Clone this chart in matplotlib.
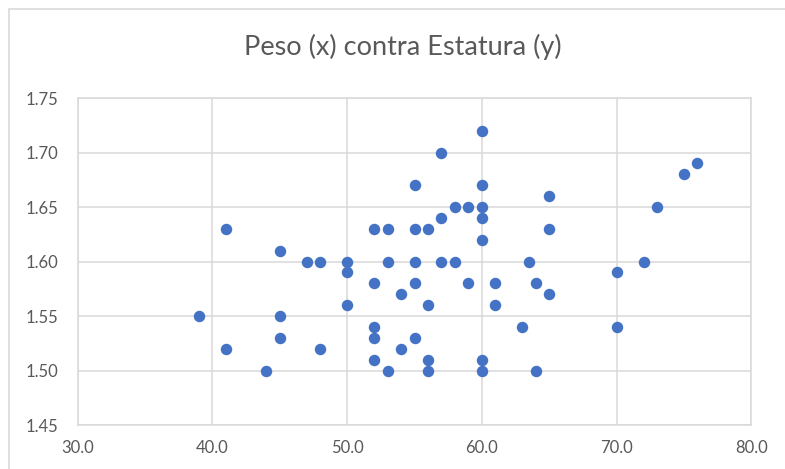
import matplotlib
matplotlib.use("Agg")
from matplotlib import pyplot as plt
from matplotlib.patches import Rectangle

# peso (kg) y estatura (m)
peso = [41, 45, 47, 48, 50, 50, 50, 39, 45, 45, 41, 48, 44,
        60, 57, 55, 60, 65, 58, 59, 60, 57, 60, 52, 53, 55, 56, 65, 60,
        53, 55, 57, 58, 63.5, 52, 55, 59, 61, 64, 54, 65, 56, 61,
        52, 63, 52, 55, 54, 52, 56, 60, 53, 56, 60, 64,
        76, 75, 73, 72, 70, 70]
estatura = [1.63, 1.61, 1.60, 1.60, 1.60, 1.59, 1.56, 1.55, 1.55, 1.53, 1.52, 1.52, 1.50,
            1.72, 1.70, 1.67, 1.67, 1.66, 1.65, 1.65, 1.65, 1.64, 1.64, 1.63, 1.63, 1.63, 1.63, 1.63, 1.62,
            1.60, 1.60, 1.60, 1.60, 1.60, 1.58, 1.58, 1.58, 1.58, 1.58, 1.57, 1.57, 1.56, 1.56,
            1.54, 1.54, 1.53, 1.53, 1.52, 1.51, 1.51, 1.51, 1.50, 1.50, 1.50, 1.50,
            1.69, 1.68, 1.65, 1.60, 1.59, 1.54]

xticks = [30, 40, 50, 60, 70, 80]
yticks = [1.45, 1.50, 1.55, 1.60, 1.65, 1.70, 1.75]

plt.rcParams['font.family'] = ['Lato', 'DejaVu Sans']
gris = "#595959"
rejilla = "#D9D9D9"

fig = plt.figure(figsize=(7.85, 4.69), dpi=100)
ax = fig.add_axes([77.7/785, 1 - 425/469, (751.3 - 77.7)/785, (425 - 98)/469])

# borde del area del grafico
fig.patches.append(Rectangle((9/785, -0.1), 1.2, 1 - 9/469 + 0.1, transform=fig.transFigure,
                             fill=False, edgecolor=rejilla, linewidth=1.2))

ax.scatter(peso, estatura, s=68, color="#4472C4", zorder=3, linewidths=0)

ax.set_xlim(30, 80)
ax.set_ylim(1.45, 1.75)
ax.set_xticks(xticks)
ax.set_yticks(yticks)
ax.set_xticklabels(["%.1f" % v for v in xticks])
ax.set_yticklabels(["%.2f" % v for v in yticks])
ax.tick_params(length=0, labelsize=12, labelcolor=gris)
ax.tick_params(axis="y", pad=14)
ax.tick_params(axis="x", pad=11)
ax.grid(True, color=rejilla, linewidth=1.1)
ax.set_axisbelow(True)
for s in ax.spines.values():
    s.set_color(rejilla)
    s.set_linewidth(1.1)

fig.text(403/785, 1 - 47/469, "Peso (x) contra Estatura (y)", ha="center", va="center",
         fontsize=19.5, color=gris)

plt.savefig("out.png", dpi=100)
